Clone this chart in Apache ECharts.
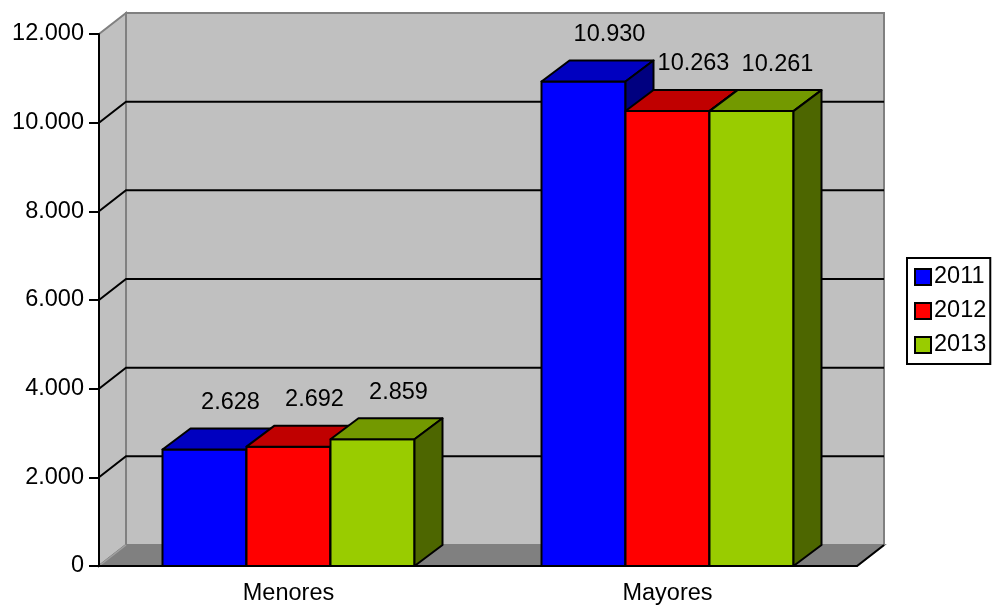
<!DOCTYPE html>
<html>
<head>
<meta charset="utf-8">
<script src="https://cdn.jsdelivr.net/npm/echarts@6/dist/echarts.min.js"></script>
<style>
  html, body { margin: 0; padding: 0; background: #fff; }
  #chart { width: 996px; height: 606px; }
</style>
</head>
<body>
<div id="chart"></div>
<script>
// Categories, series and axis ticks
const categories = ['Menores', 'Mayores'];
const years = ['2011', '2012', '2013'];
const values2011 = [2628, 10930];
const values2012 = [2692, 10263];
const values2013 = [2859, 10261];
const yTicks = [0, 2000, 4000, 6000, 8000, 10000, 12000];

// Face colours: front, top, side
const palette = [
  { front: '#0000FF', top: '#0000C0', side: '#000080' },
  { front: '#FF0000', top: '#C00000', side: '#800000' },
  { front: '#99CC00', top: '#739900', side: '#4D6600' }
];

const FONT = '"Liberation Sans", Arial, sans-serif';
const FONT_SIZE = 23.5;
const WALL_DX = 27, WALL_DY = 21;   // depth of the 3D box
const BAR_DX = 28, BAR_DY = 21;     // depth of each bar
const BAR_RATIO = 84 / 379;         // bar width as a share of the category band

function fmt(v) {
  return String(Math.round(v)).replace(/\B(?=(\d{3})+(?!\d))/g, '.');
}

// Back wall, left wall, floor and gridlines
function renderWalls(params, api) {
  const cs = params.coordSys;
  const x0 = cs.x, x1 = cs.x + cs.width;
  const yTop = cs.y, yBot = cs.y + cs.height;
  const wallStroke = { stroke: '#808080', lineWidth: 2 };
  const children = [
    { type: 'rect', shape: { x: x0 + WALL_DX, y: yTop - WALL_DY, width: cs.width, height: cs.height },
      style: Object.assign({ fill: '#C0C0C0' }, wallStroke) },
    { type: 'polygon', shape: { points: [[x0, yTop], [x0 + WALL_DX, yTop - WALL_DY], [x0 + WALL_DX, yBot - WALL_DY], [x0, yBot]] },
      style: Object.assign({ fill: '#C0C0C0' }, wallStroke) },
    { type: 'polygon', shape: { points: [[x0, yBot], [x1, yBot], [x1 + WALL_DX, yBot - WALL_DY], [x0 + WALL_DX, yBot - WALL_DY]] },
      style: { fill: '#808080', stroke: '#808080', lineWidth: 2 } },
    { type: 'line', shape: { x1: x0, y1: yBot, x2: x0 + WALL_DX, y2: yBot - WALL_DY },
      style: { stroke: '#A0A0A0', lineWidth: 1.5 } },
    { type: 'line', shape: { x1: x1, y1: yBot, x2: x1 + WALL_DX, y2: yBot - WALL_DY },
      style: { stroke: '#000', lineWidth: 2 } }
  ];
  yTicks.forEach(function (t) {
    if (t === yTicks[0] || t === yTicks[yTicks.length - 1]) return;
    const y = api.coord([0, t])[1];
    children.push({
      type: 'polyline',
      shape: { points: [[x0, y], [x0 + WALL_DX, y - WALL_DY], [x1 + WALL_DX, y - WALL_DY]] },
      style: { stroke: '#000', lineWidth: 2, fill: null }
    });
  });
  return { type: 'group', children: children };
}

// One 3D bar: front, top and side faces plus its value label
function barRenderer(idx) {
  const c = palette[idx];
  return function (params, api) {
    const cat = api.value(0), val = api.value(1);
    const band = api.size([1, 0])[0];
    const bw = band * BAR_RATIO;
    const base = api.coord([cat, 0]);
    const yt = api.coord([cat, val])[1];
    const yb = base[1];
    const x0 = base[0] - bw * 1.5 + idx * bw;
    const x1 = x0 + bw;
    const edge = { stroke: '#000', lineWidth: 2, lineJoin: 'round' };
    return {
      type: 'group',
      children: [
        { type: 'rect', shape: { x: x0, y: yt, width: bw, height: yb - yt },
          style: Object.assign({ fill: c.front }, edge) },
        { type: 'polygon', shape: { points: [[x0, yt], [x1, yt], [x1 + BAR_DX, yt - BAR_DY], [x0 + BAR_DX, yt - BAR_DY]] },
          style: Object.assign({ fill: c.top }, edge) },
        { type: 'polygon', shape: { points: [[x1, yt], [x1 + BAR_DX, yt - BAR_DY], [x1 + BAR_DX, yb - BAR_DY], [x1, yb]] },
          style: Object.assign({ fill: c.side }, edge) },
        { type: 'text',
          style: { text: fmt(val), x: (x0 + x1) / 2 + 26, y: yt - BAR_DY - 26,
                   align: 'center', verticalAlign: 'middle',
                   fontSize: FONT_SIZE, fontFamily: FONT, fill: '#000' } }
      ]
    };
  };
}

const seriesValues = [values2011, values2012, values2013];

const chart = echarts.init(document.getElementById('chart'), null, { renderer: 'canvas' });
chart.setOption({
  animation: false,
  backgroundColor: '#fff',
  textStyle: { fontFamily: FONT },
  grid: { left: 99, right: 139, top: 34, bottom: 40, containLabel: false },
  legend: {
    data: years,
    orient: 'vertical',
    left: 907, top: 258,
    padding: [7, 4, 7, 7],
    itemGap: 10,
    itemWidth: 16, itemHeight: 16,
    icon: 'rect',
    borderColor: '#000', borderWidth: 2,
    itemStyle: { borderColor: '#000', borderWidth: 2 },
    textStyle: { fontSize: FONT_SIZE, color: '#000', fontFamily: FONT, padding: [0, 0, 0, -2] }
  },
  xAxis: {
    type: 'category',
    data: categories,
    z: 10,
    axisLine: { lineStyle: { color: '#000', width: 2 } },
    axisTick: { length: 10, lineStyle: { color: '#000', width: 2 } },
    axisLabel: { fontSize: FONT_SIZE, color: '#000', margin: 16, fontFamily: FONT },
    splitLine: { show: false }
  },
  yAxis: {
    type: 'value',
    min: 0, max: 12000, interval: 2000,
    z: 10,
    axisLine: { show: true, lineStyle: { color: '#000', width: 2 } },
    axisTick: { show: true, length: 10, lineStyle: { color: '#000', width: 2 } },
    axisLabel: { fontSize: FONT_SIZE, color: '#000', margin: 15, fontFamily: FONT, formatter: fmt },
    splitLine: { show: false }
  },
  series: [
    { type: 'custom', name: 'walls', z: 1, silent: true, renderItem: renderWalls, data: [[0, 0]] }
  ].concat(years.map(function (y, i) {
    return {
      type: 'custom',
      name: y,
      z: 2 + i,
      itemStyle: { color: palette[i].front },
      renderItem: barRenderer(i),
      data: seriesValues[i].map(function (v, k) { return [k, v]; })
    };
  }))
});
</script>
</body>
</html>
